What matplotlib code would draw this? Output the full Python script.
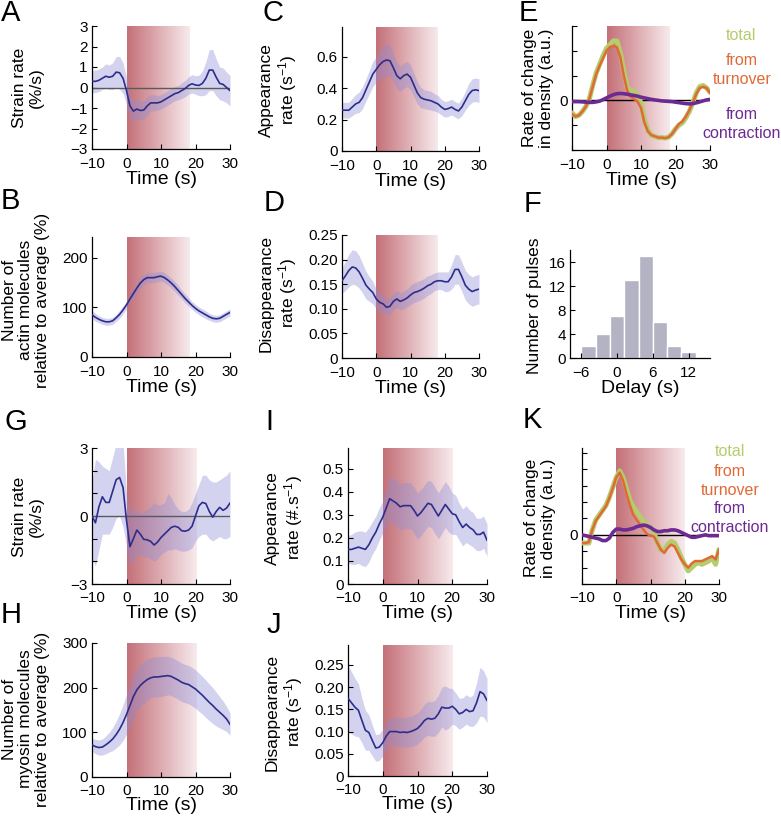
import numpy as np
import matplotlib
matplotlib.use("Agg")
import matplotlib.pyplot as plt
from matplotlib.colors import LinearSegmentedColormap

plt.rcParams['font.family'] = ['Liberation Sans', 'DejaVu Sans']
plt.rcParams['mathtext.fontset'] = 'custom'
plt.rcParams['mathtext.rm'] = 'Liberation Sans'
plt.rcParams['mathtext.it'] = 'Liberation Sans:italic'

# ---- data (time grid -10..30 s, 1 s step) ----
t = np.arange(-10, 31)

A_mean = [0.30, 0.30, 0.35, 0.45, 0.55, 0.50, 0.55, 0.75, 0.72, 0.45,
          -0.15, -0.90, -1.15, -1.05, -1.12, -1.10, -0.90, -0.75, -0.75, -0.75,
          -0.70, -0.60, -0.50, -0.40, -0.30, -0.25, -0.15, -0.05, 0.10, 0.18,
          0.12, 0.10, 0.20, 0.45, 0.85, 0.85, 0.50, 0.20, 0.15, 0.00, -0.15]
A_err = [0.55, 0.55, 0.55, 0.55, 0.6, 0.6, 0.65, 0.75, 0.8, 0.75,
         0.65, 0.55, 0.5, 0.5, 0.45, 0.45, 0.45, 0.4, 0.4, 0.35,
         0.35, 0.35, 0.35, 0.35, 0.35, 0.35, 0.38, 0.4, 0.42, 0.45,
         0.45, 0.5, 0.6, 0.8, 1.0, 1.0, 0.9, 0.8, 0.8, 0.75, 0.75]

C_mean = [0.26, 0.26, 0.26, 0.28, 0.30, 0.31, 0.34, 0.39, 0.44, 0.49,
          0.52, 0.55, 0.57, 0.58, 0.575, 0.53, 0.48, 0.46, 0.48, 0.49,
          0.47, 0.42, 0.37, 0.34, 0.33, 0.325, 0.32, 0.31, 0.30, 0.28,
          0.265, 0.27, 0.28, 0.265, 0.255, 0.28, 0.32, 0.36, 0.385, 0.39, 0.385]
C_err = [0.05, 0.05, 0.05, 0.055, 0.06, 0.065, 0.07, 0.07, 0.075, 0.08,
         0.08, 0.09, 0.1, 0.1, 0.1, 0.09, 0.085, 0.08, 0.08, 0.08,
         0.08, 0.075, 0.07, 0.065, 0.06, 0.06, 0.06, 0.055, 0.055, 0.05,
         0.05, 0.05, 0.05, 0.05, 0.05, 0.055, 0.06, 0.07, 0.075, 0.075, 0.075]

E_total = [-0.5, -0.65, -0.6, -0.45, -0.25, 0.05, 0.6, 1.1, 1.45, 1.8,
           2.1, 2.25, 2.4, 2.4, 1.95, 1.2, 0.55, 0.38, 0.37, 0.2,
           -0.1, -0.8, -1.2, -1.4, -1.45, -1.5, -1.5, -1.52, -1.48, -1.35,
           -1.15, -1.0, -0.9, -0.7, -0.45, -0.1, 0.3, 0.55, 0.6, 0.5, 0.33]
E_turn = [-0.55, -0.65, -0.6, -0.45, -0.25, 0.05, 0.55, 1.05, 1.4, 1.7,
          2.0, 2.15, 2.2, 2.15, 1.75, 1.0, 0.4, 0.15, 0.05, -0.05,
          -0.3, -0.9, -1.25, -1.4, -1.45, -1.5, -1.5, -1.52, -1.48, -1.35,
          -1.15, -0.95, -0.85, -0.65, -0.4, -0.1, 0.25, 0.5, 0.55, 0.5, 0.3]
E_contr = [-0.05, -0.05, -0.05, -0.06, -0.07, -0.08, -0.08, -0.06, -0.03, 0.03,
           0.1, 0.17, 0.23, 0.27, 0.28, 0.27, 0.25, 0.22, 0.2, 0.17,
           0.13, 0.1, 0.07, 0.04, 0.02, 0.0, -0.02, -0.03, -0.04, -0.05,
           -0.07, -0.09, -0.11, -0.13, -0.14, -0.13, -0.1, -0.06, -0.02, 0.02, 0.04]

B_mean = [85, 80, 76, 73, 71, 71, 73, 79, 86, 95,
          105, 117, 128, 139, 149, 156, 160, 160, 160, 162,
          163, 160, 155, 149, 142, 134, 126, 118, 111, 104,
          98, 93, 89, 85, 81, 78, 77, 78, 82, 86, 90]
B_err = [8, 8, 7, 7, 7, 7, 7, 7, 8, 8,
         8, 8, 9, 9, 10, 10, 10, 10, 10, 10,
         10, 10, 10, 10, 10, 10, 9, 9, 9, 8,
         8, 8, 8, 8, 7, 7, 7, 7, 7, 7, 7]

D_mean = [0.157, 0.167, 0.178, 0.185, 0.183, 0.175, 0.162, 0.148, 0.14, 0.133,
          0.12, 0.113, 0.11, 0.103, 0.105, 0.115, 0.12, 0.115, 0.118, 0.122,
          0.128, 0.133, 0.135, 0.138, 0.142, 0.147, 0.15, 0.155, 0.157, 0.157,
          0.155, 0.155, 0.165, 0.18, 0.18, 0.165, 0.148, 0.14, 0.135, 0.138, 0.14]
D_err = [0.025, 0.03, 0.033, 0.035, 0.035, 0.033, 0.03, 0.028, 0.025, 0.023,
         0.02, 0.02, 0.018, 0.017, 0.017, 0.017, 0.017, 0.017, 0.018, 0.018,
         0.02, 0.02, 0.02, 0.02, 0.02, 0.02, 0.019, 0.018, 0.018, 0.018,
         0.02, 0.02, 0.025, 0.03, 0.03, 0.03, 0.03, 0.03, 0.03, 0.03, 0.03]

F_delay = [-4.8, -2.4, 0.0, 2.4, 4.8, 7.2, 9.6, 12.0]
F_count = [2, 4, 7, 13, 17, 6, 2, 1]

G_mean = [0.0, -0.3, 0.4, 0.85, 0.6, 0.6, 1.1, 1.6, 1.7, 1.25,
          -0.2, -1.35, -1.0, -0.62, -0.8, -1.03, -1.05, -1.12, -1.28, -1.15,
          -0.95, -0.8, -0.65, -0.5, -0.45, -0.5, -0.65, -0.67, -0.62, -0.45,
          0.0, 0.45, 0.6, 0.55, 0.2, -0.05, 0.2, 0.38, 0.25, 0.35, 0.57]
G_hi = [1.5, 2.5, 2.4, 2.2, 2.1, 2.0, 2.6, 3.2, 3.4, 3.3,
        1.0, 0.2, 0.3, 0.3, 0.1, 0.2, 0.3, 0.4, 0.6, 0.5,
        0.5, 0.6, 1.0, 0.8, 0.5, 0.3, 0.2, 0.2, 0.3, 0.6,
        1.0, 1.4, 1.8, 1.8, 1.6, 1.5, 1.5, 1.6, 1.7, 1.8, 2.0]
G_lo = [-1.9, -2.2, -1.5, -0.8, -0.8, -0.8, -0.5, -0.1, 0.0, -0.5,
        -1.3, -2.2, -2.0, -1.7, -1.7, -1.8, -1.8, -1.9, -2.0, -1.9,
        -1.7, -1.6, -1.5, -1.5, -1.45, -1.5, -1.55, -1.55, -1.5, -1.4,
        -1.1, -0.9, -0.8, -0.8, -1.0, -1.1, -1.0, -0.9, -1.0, -1.0, -0.9]

I_mean = [0.15, 0.15, 0.155, 0.16, 0.155, 0.15, 0.17, 0.2, 0.225, 0.26,
          0.29, 0.33, 0.37, 0.36, 0.35, 0.335, 0.34, 0.34, 0.34, 0.32,
          0.295, 0.31, 0.33, 0.35, 0.345, 0.32, 0.295, 0.32, 0.345, 0.325,
          0.305, 0.3, 0.27, 0.245, 0.26, 0.245, 0.235, 0.215, 0.215, 0.225, 0.19]
I_err = [0.06, 0.065, 0.07, 0.07, 0.075, 0.075, 0.075, 0.07, 0.07, 0.07,
         0.07, 0.08, 0.09, 0.1, 0.1, 0.1, 0.1, 0.1, 0.1, 0.1,
         0.1, 0.1, 0.1, 0.1, 0.1, 0.1, 0.1, 0.1, 0.1, 0.1,
         0.09, 0.085, 0.08, 0.08, 0.08, 0.075, 0.075, 0.07, 0.07, 0.07, 0.07]

K_total = [-0.5, -0.5, -0.5, 0.3, 0.9, 1.2, 1.5, 1.8, 2.3, 2.9,
           3.5, 3.9, 3.5, 2.8, 2.1, 1.7, 1.4, 1.1, 0.8, 0.6,
           0.45, 0.2, -0.5, -0.9, -1.0, -0.6, -0.4, -0.5, -0.9, -1.4,
           -1.8, -2.2, -2.0, -1.8, -1.7, -1.8, -1.7, -1.6, -1.4, -1.8, -0.9]
K_turn = [-0.5, -0.5, -0.45, 0.3, 0.85, 1.15, 1.45, 1.75, 2.25, 2.85,
          3.5, 3.8, 3.3, 2.5, 1.8, 1.2, 0.9, 0.6, 0.3, 0.05,
          -0.05, -0.1, -0.5, -0.9, -1.1, -0.8, -0.6, -0.7, -1.1, -1.5,
          -1.8, -2.0, -1.75, -1.6, -1.6, -1.6, -1.5, -1.4, -1.3, -1.5, -0.9]
K_contr = [0.0, -0.05, -0.1, -0.15, -0.2, -0.25, -0.35, -0.35, -0.2, 0.15,
           0.35, 0.35, 0.3, 0.3, 0.35, 0.4, 0.5, 0.55, 0.6, 0.55,
           0.45, 0.3, 0.2, 0.2, 0.25, 0.25, 0.3, 0.3, 0.25, 0.15,
           0.05, -0.05, -0.15, -0.15, -0.1, -0.05, 0.0, -0.05, -0.05, -0.05, -0.05]

H_mean = [72, 68, 66, 67, 72, 78, 85, 95, 107, 122,
          140, 160, 180, 195, 205, 212, 218, 222, 224, 224,
          225, 226, 227, 225, 221, 217, 212, 209, 207, 202,
          197, 190, 183, 175, 167, 160, 152, 145, 138, 130, 118]
H_err = [15, 16, 17, 18, 20, 22, 26, 30, 35, 40,
         45, 46, 47, 47, 47, 47, 46, 45, 45, 45,
         45, 44, 43, 43, 43, 43, 43, 43, 43, 43,
         43, 43, 42, 42, 41, 40, 38, 35, 32, 28, 25]

J_mean = [0.175, 0.165, 0.155, 0.148, 0.125, 0.103, 0.098, 0.08, 0.063, 0.065,
          0.075, 0.09, 0.1, 0.1, 0.1, 0.098, 0.099, 0.098, 0.1, 0.103,
          0.107, 0.115, 0.125, 0.13, 0.128, 0.13, 0.14, 0.155, 0.153, 0.153,
          0.157, 0.15, 0.14, 0.143, 0.15, 0.145, 0.147, 0.165, 0.19, 0.185, 0.17]
J_err = [0.075, 0.07, 0.065, 0.06, 0.05, 0.045, 0.04, 0.035, 0.03, 0.03,
         0.03, 0.03, 0.03, 0.032, 0.033, 0.033, 0.033, 0.034, 0.034, 0.035,
         0.035, 0.036, 0.037, 0.038, 0.039, 0.04, 0.042, 0.045, 0.05, 0.045,
         0.04, 0.037, 0.035, 0.033, 0.033, 0.033, 0.035, 0.045, 0.055, 0.052, 0.05]

# ---- style ----
W, H = 781, 823
NAVY = '#2d2d8c'
BAND = (0.55, 0.55, 0.85)
GREEN = '#b5cc6c'
ORANGE = '#e06a36'
PURPLE = '#6c2a92'
TICK_FS = 11
YL_FS = 12.5
XL_FS = 14
LEG_FS = 11.5

red_cmap = LinearSegmentedColormap.from_list('pulse', [(0.77, 0.44, 0.47), (0.97, 0.92, 0.93)])
grad = np.linspace(0, 1, 256).reshape(1, -1)

fig = plt.figure(figsize=(W / 100, H / 100), dpi=100)


def px_axes(l, t_, r, b):
    return fig.add_axes([l / W, 1 - b / H, (r - l) / W, (b - t_) / H])


def style(ax, xpad=6):
    for s in ['top', 'right']:
        ax.spines[s].set_visible(False)
    for s in ['left', 'bottom']:
        ax.spines[s].set_linewidth(0.9)
    ax.tick_params(direction='in', length=3.5, width=0.8, labelsize=TICK_FS)
    ax.tick_params(axis='x', pad=xpad)
    ax.tick_params(axis='y', pad=3)


def shade(ax, x1, ylim):
    ax.imshow(grad, extent=[0, x1, ylim[0], ylim[1]], aspect='auto', cmap=red_cmap,
              zorder=0, interpolation='bicubic')
    ax.set_xlim(-10, 30)
    ax.set_ylim(*ylim)


def ftext(x, y, s, **kw):
    fig.text(x / W, 1 - y / H, s, **kw)


def ylab(x, y, s, fs=YL_FS):
    ftext(x, y, s, rotation=90, ha='center', va='center', fontsize=fs,
          multialignment='center', linespacing=1.15)


def panel(x, y, s):
    ftext(x, y, s, fontsize=21, ha='left', va='baseline')


def mean_plot(ax, x1, ylim, mean, lo, hi, xpad=6):
    shade(ax, x1, ylim)
    ax.fill_between(t, lo, hi, color=BAND, alpha=0.38, lw=0, zorder=1)
    ax.plot(t, mean, color=NAVY, lw=1.2, zorder=3)
    ax.set_xticks([-10, 0, 10, 20, 30])
    style(ax, xpad)


def pm(m, e):
    m = np.array(m, float)
    e = np.array(e, float)
    return m - e, m + e


def rate_plot(ax, x1, ylim, total, turn, contr, yt, xpad=6):
    shade(ax, x1, ylim)
    ax.axhline(0, color='black', lw=1.0, zorder=2)
    ax.plot(t, total, color=GREEN, lw=3.6, zorder=3, solid_capstyle='round')
    ax.plot(t, turn, color=ORANGE, lw=1.8, zorder=4)
    ax.plot(t, contr, color=PURPLE, lw=2.6, zorder=5)
    ax.set_xticks([-10, 0, 10, 20, 30])
    ax.set_yticks(yt)
    ax.set_yticklabels(['0' if v == 0 else '' for v in yt])
    style(ax, xpad)


# A
ax = px_axes(92, 26, 230, 149)
lo, hi = pm(A_mean, A_err)
mean_plot(ax, 18, (-3, 3), A_mean, lo, hi)
ax.axhline(0, color='#5a5a5a', lw=1.0, zorder=2)
ax.set_yticks(range(-3, 4))
ax.set_xlabel('Time (s)', fontsize=XL_FS, labelpad=0)
ylab(28, 88, 'Strain rate\n(%/s)')
panel(1, 21, 'A')

# C
ax = px_axes(342, 27, 479, 151)
lo, hi = pm(C_mean, C_err)
mean_plot(ax, 18, (0, 0.79), C_mean, lo, hi)
ax.set_yticks([0, 0.2, 0.4, 0.6])
ax.set_yticklabels(['0', '0.2', '0.4', '0.6'])
ax.set_xlabel('Time (s)', fontsize=XL_FS, labelpad=0)
ylab(279, 90, 'Appearance\nrate (s$^{-1}$)')
panel(262, 21, 'C')

# E
ax = px_axes(572, 26, 710, 150)
rate_plot(ax, 18, (-2, 3), E_total, E_turn, E_contr, [-2, -1, 0, 1, 2, 3])
ax.set_xlabel('Time (s)', fontsize=XL_FS, labelpad=0)
ylab(538, 88, 'Rate of change\nin density (a.u.)')
panel(519, 21, 'E')
ftext(741, 36, 'total', color=GREEN, fontsize=LEG_FS, ha='center', va='center')
ftext(742, 70, 'from\nturnover', color=ORANGE, fontsize=LEG_FS, ha='center', va='center', linespacing=1.3)
ftext(742, 124, 'from\ncontraction', color=PURPLE, fontsize=LEG_FS, ha='center', va='center', linespacing=1.3)

# B
ax = px_axes(92, 237, 230, 357)
lo, hi = pm(B_mean, B_err)
mean_plot(ax, 18, (0, 242), B_mean, lo, hi)
ax.set_yticks([0, 100, 200])
ax.set_xlabel('Time (s)', fontsize=XL_FS, labelpad=0)
ylab(26, 300, 'Number of\nactin molecules\nrelative to average (%)')
panel(1, 209, 'B')

# D
ax = px_axes(342, 235, 479, 358)
lo, hi = pm(D_mean, D_err)
mean_plot(ax, 18, (0, 0.25), D_mean, lo, hi)
ax.set_yticks([0, 0.05, 0.10, 0.15, 0.20, 0.25])
ax.set_yticklabels(['0', '0.05', '0.10', '0.15', '0.20', '0.25'])
ax.set_xlabel('Time (s)', fontsize=XL_FS, labelpad=0)
ylab(279, 293, 'Disappearance\nrate (s$^{-1}$)')
panel(264, 211, 'D')

# F
ax = px_axes(570, 250, 710, 358)
ax.bar(F_delay, F_count, width=2.4, color='#b3b3c3', edgecolor='white', linewidth=1.0)
ax.set_xlim(-7.9, 15.6)
ax.set_ylim(0, 18)
ax.set_xticks([-6, 0, 6, 12])
ax.set_yticks([0, 4, 8, 12, 16])
style(ax)
ax.set_xlabel('Delay (s)', fontsize=XL_FS, labelpad=0)
ylab(534, 306, 'Number of pulses')
panel(524, 212, 'F')

# G
ax = px_axes(92, 448, 230, 584)
mean_plot(ax, 20, (-3, 3), G_mean, G_lo, G_hi, xpad=5)
ax.axhline(0, color='#5a5a5a', lw=1.0, zorder=2)
ax.set_yticks(range(-3, 4))
ax.set_yticklabels(['\u22123', '', '', '0', '', '', '3'])
ax.set_xlabel('Time (s)', fontsize=XL_FS, labelpad=0)
ylab(28, 517, 'Strain rate\n(%/s)')
panel(4, 430, 'G')

# I
ax = px_axes(348, 448, 487, 584)
lo, hi = pm(I_mean, I_err)
mean_plot(ax, 20, (0, 0.59), I_mean, lo, hi, xpad=5)
ax.set_yticks([0, 0.1, 0.2, 0.3, 0.4, 0.5])
ax.set_yticklabels(['0', '0.1', '0.2', '0.3', '0.4', '0.5'])
ax.set_xlabel('Time (s)', fontsize=XL_FS, labelpad=0)
ylab(285, 518, 'Appearance\nrate (#.s$^{-1}$)')
panel(265, 430, 'I')

# K
ax = px_axes(582, 448, 719, 584)
rate_plot(ax, 20, (-3, 5.3), K_total, K_turn, K_contr, list(range(-3, 6)), xpad=5)
ax.set_xlabel('Time (s)', fontsize=XL_FS, labelpad=0)
ylab(540, 518, 'Rate of change\nin density (a.u.)')
panel(523, 428, 'K')
ftext(730, 452, 'total', color=GREEN, fontsize=LEG_FS, ha='center', va='center')
ftext(730, 481, 'from\nturnover', color=ORANGE, fontsize=LEG_FS, ha='center', va='center', linespacing=1.3)
ftext(730, 518, 'from\ncontraction', color=PURPLE, fontsize=LEG_FS, ha='center', va='center', linespacing=1.3)

# H
ax = px_axes(92, 643, 230, 777)
lo, hi = pm(H_mean, H_err)
mean_plot(ax, 20, (0, 300), H_mean, lo, hi, xpad=5)
ax.set_yticks([0, 100, 200, 300])
ax.set_xlabel('Time (s)', fontsize=XL_FS, labelpad=-1)
ylab(26, 719, 'Number of\nmyosin molecules\nrelative to average (%)')
panel(1, 623, 'H')

# J
ax = px_axes(348, 645, 487, 776)
lo, hi = pm(J_mean, J_err)
mean_plot(ax, 20, (0, 0.295), J_mean, lo, hi, xpad=5)
ax.set_yticks([0, 0.05, 0.10, 0.15, 0.20, 0.25])
ax.set_yticklabels(['0', '0.05', '0.10', '0.15', '0.20', '0.25'])
ax.set_xlabel('Time (s)', fontsize=XL_FS, labelpad=-1)
ylab(285, 712, 'Disappearance\nrate (s$^{-1}$)')
panel(267, 633, 'J')

fig.savefig('out.png', dpi=100)
